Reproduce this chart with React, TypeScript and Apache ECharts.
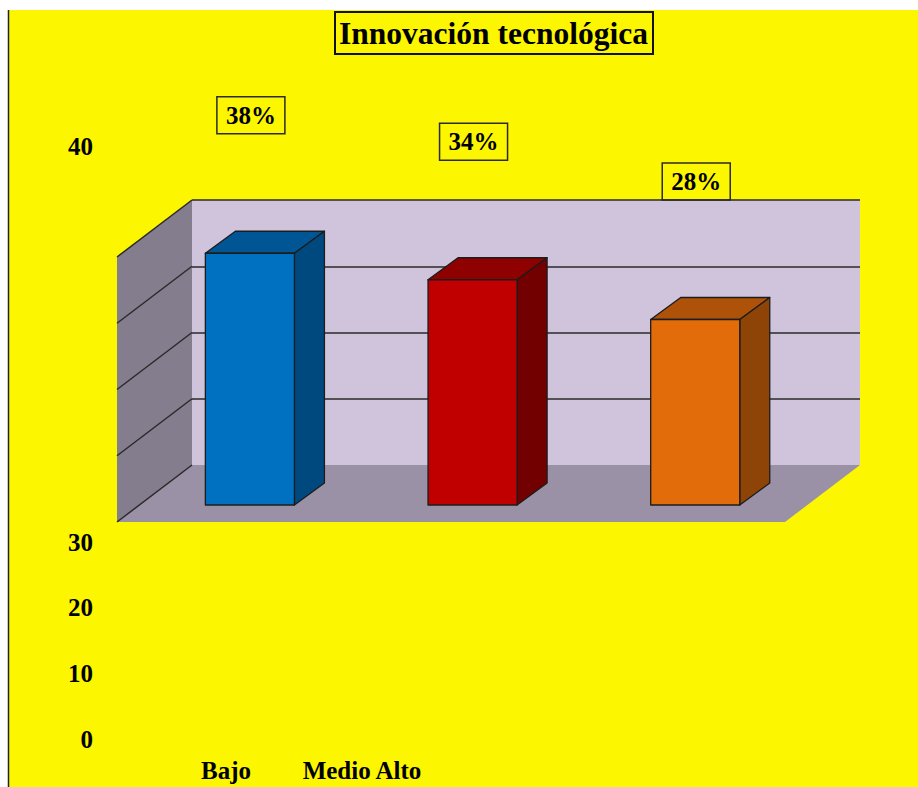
import React, { useEffect, useRef } from "react";
import * as echarts from "echarts";

// Survey result: share of respondents per level of technological innovation
const categories = ["Bajo", "Medio", "Alto"];
const values = [38, 34, 28];
const lowerTicks = ["0", "10", "20", "30"];
const upperTick = "40";
const titleText = "Innovación tecnológica";

// face colours per bar: front, top, side
const palette = [
  { front: "#0070c0", top: "#005594", side: "#00497f" },
  { front: "#c00000", top: "#8f0000", side: "#730000" },
  { front: "#e36c0a", top: "#ad5208", side: "#8e4406" },
];

const SERIF = "'Liberation Serif', 'Times New Roman', serif";
const YELLOW = "#fcf600";
const EDGE = "#1c1c1c";

// projection of the depth direction
const FLOOR_DX = -75;
const FLOOR_DY = 57;
const BAR_DROP = 40;
const BAR_DX = 30;
const BAR_DY = -22;

export default function App() {
  const ref = useRef<HTMLDivElement>(null);

  useEffect(() => {
    document.body.style.margin = "0";
    const chart = echarts.init(ref.current!, null, { renderer: "svg" });

    const renderWalls = (params: any, api: any) => {
      const cs = params.coordSys;
      const x = cs.x;
      const y = cs.y;
      const w = cs.width;
      const h = cs.height;
      const levels = [0, 10, 20, 30, 40];
      const children: any[] = [
        {
          type: "polygon",
          shape: {
            points: [
              [x, y + h],
              [x + w, y + h],
              [x + w + FLOOR_DX, y + h + FLOOR_DY],
              [x + FLOOR_DX, y + h + FLOOR_DY],
            ],
          },
          style: { fill: "#9a91a6" },
        },
        {
          type: "polygon",
          shape: {
            points: [
              [x, y],
              [x, y + h],
              [x + FLOOR_DX, y + h + FLOOR_DY],
              [x + FLOOR_DX, y + FLOOR_DY],
            ],
          },
          style: { fill: "#847d8e" },
        },
      ];
      levels.forEach((lv) => {
        const gy = api.coord([0, lv])[1];
        children.push({
          type: "line",
          shape: { x1: x, y1: gy, x2: x + FLOOR_DX, y2: gy + FLOOR_DY },
          style: { stroke: "#2a2a2a", lineWidth: 1.5 },
        });
      });
      return { type: "group", children };
    };

    const renderBars = (params: any, api: any) => {
      const i = api.value(0);
      const v = api.value(1);
      const base = api.coord([i, 0]);
      const top = api.coord([i, v]);
      const band = api.size([1, 0])[0];
      const cx = base[0] - band * 0.24;
      const bw = band * 0.4;
      const x0 = cx - bw / 2;
      const x1 = cx + bw / 2;
      const yb = base[1] + BAR_DROP;
      const yt = top[1] + BAR_DROP;
      const c = palette[i];
      const stroke = { stroke: EDGE, lineWidth: 1.3, lineJoin: "round" };
      return {
        type: "group",
        children: [
          {
            type: "polygon",
            shape: {
              points: [
                [x0, yt],
                [x1, yt],
                [x1 + BAR_DX, yt + BAR_DY],
                [x0 + BAR_DX, yt + BAR_DY],
              ],
            },
            style: { fill: c.top, ...stroke },
          },
          {
            type: "polygon",
            shape: {
              points: [
                [x1, yt],
                [x1 + BAR_DX, yt + BAR_DY],
                [x1 + BAR_DX, yb + BAR_DY],
                [x1, yb],
              ],
            },
            style: { fill: c.side, ...stroke },
          },
          {
            type: "rect",
            shape: { x: x0, y: yt, width: bw, height: yb - yt },
            style: { fill: c.front, ...stroke },
          },
          {
            type: "text",
            x: cx + 1,
            y: yt - 138,
            style: {
              text: `${v}%`,
              align: "center",
              verticalAlign: "middle",
              fill: "#000",
              font: `bold 25px ${SERIF}`,
              padding: [7, 9, 5, 9],
              borderColor: "#2a2a2a",
              borderWidth: 1.5,
            },
          },
        ],
      };
    };

    chart.setOption({
      animation: false,
      backgroundColor: "#ffffff",
      title: {
        text: titleText,
        left: 335,
        top: 12,
        padding: [4, 5, 4, 4],
        borderColor: "#111",
        borderWidth: 2,
        textStyle: {
          fontFamily: SERIF,
          fontWeight: "bold",
          fontSize: 31.5,
          lineHeight: 34,
          color: "#000",
        },
      },
      graphic: [
        {
          type: "rect",
          z: -10,
          shape: { x: 9, y: 10, width: 909, height: 777 },
          style: { fill: YELLOW },
        },
        {
          type: "line",
          z: -5,
          shape: { x1: 8.5, y1: 10, x2: 8.5, y2: 787 },
          style: { stroke: "#222", lineWidth: 1.5 },
        },
        {
          type: "text",
          x: 93,
          y: 146,
          style: {
            text: upperTick,
            align: "right",
            verticalAlign: "middle",
            fill: "#000",
            font: `bold 25px ${SERIF}`,
          },
        },
      ],
      grid: [
        {
          left: 192,
          top: 200,
          width: 668,
          height: 265,
          show: true,
          backgroundColor: "#cfc4dc",
          borderWidth: 0,
        },
        {
          left: 158,
          top: 542,
          width: 272,
          height: 197,
          show: false,
        },
      ],
      xAxis: [
        {
          gridIndex: 0,
          type: "category",
          data: categories,
          axisLine: { show: false },
          axisTick: { show: false },
          axisLabel: { show: false },
        },
        {
          gridIndex: 1,
          type: "category",
          data: [categories[0], categories.slice(1).join(" ")],
          axisLine: { show: false },
          axisTick: { show: false },
          axisLabel: {
            interval: 0,
            hideOverlap: false,
            margin: 19,
            color: "#000",
            fontFamily: SERIF,
            fontWeight: "bold",
            fontSize: 25,
          },
        },
      ],
      yAxis: [
        {
          gridIndex: 0,
          type: "value",
          min: 0,
          max: 40,
          interval: 10,
          axisLine: { show: false },
          axisTick: { show: false },
          axisLabel: { show: false },
          splitLine: {
            show: true,
            showMinLine: false,
            lineStyle: { color: "#2a2a2a", width: 1.5 },
          },
        },
        {
          gridIndex: 1,
          type: "value",
          min: 0,
          max: 30,
          interval: 10,
          axisLine: { show: false },
          axisTick: { show: false },
          splitLine: { show: false },
          axisLabel: {
            margin: 65,
            color: "#000",
            fontFamily: SERIF,
            fontWeight: "bold",
            fontSize: 25,
            formatter: (val: number) => lowerTicks[Math.round(val / 10)] ?? "",
          },
        },
      ],
      series: [
        {
          type: "custom",
          xAxisIndex: 0,
          yAxisIndex: 0,
          z: 1,
          silent: true,
          data: [[0, 0]],
          renderItem: renderWalls,
        },
        {
          type: "custom",
          xAxisIndex: 0,
          yAxisIndex: 0,
          z: 3,
          data: values.map((v, i) => [i, v]),
          renderItem: renderBars,
        },
      ],
    });

    return () => chart.dispose();
  }, []);

  return <div ref={ref} style={{ width: 918, height: 787, overflow: "hidden" }} />;
}
